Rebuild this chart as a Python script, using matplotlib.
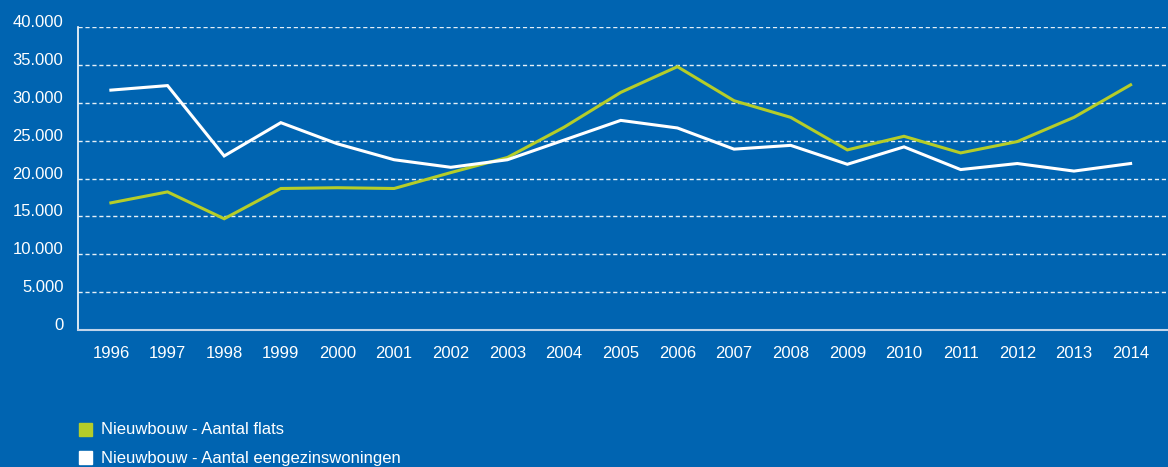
import matplotlib.pyplot as plt
from matplotlib.patches import Rectangle

years = [str(y) for y in range(1996, 2015)]
flats = [16800, 18250, 14700, 18700, 18800, 18700, 20800, 22800, 26800, 31400,
         34800, 30300, 28100, 23800, 25600, 23400, 24900, 28100, 32400]
eengezins = [31700, 32300, 23000, 27400, 24600, 22500, 21500, 22500, 25100, 27700,
             26700, 23900, 24400, 21900, 24200, 21200, 22000, 21000, 22000]
yticks = list(range(0, 40001, 5000))
ytick_labels = ["0" if v == 0 else f"{v // 1000}.000" for v in yticks]

blue = "#0064b1"
green = "#b5cd29"
plt.rcParams["font.family"] = ["Liberation Sans", "DejaVu Sans"]

fig = plt.figure(figsize=(11.68, 4.67), dpi=100, facecolor=blue)
ax = fig.add_axes([0.0668, 0.2934, 0.9332, 0.6481], facecolor=blue)

x = range(len(years))
ax.plot(x, flats, color=green, lw=2.2, solid_joinstyle="miter", zorder=3)
ax.plot(x, eengezins, color="white", lw=2.2, solid_joinstyle="miter", zorder=3)

ax.set_ylim(0, 40000)
ax.set_xlim(-0.58, 18.66)
ax.set_yticks(yticks)
ax.set_yticklabels(ytick_labels, va="baseline")
ax.set_xticks(list(x))
ax.set_xticklabels(years)
for v in yticks[1:]:
    ax.axhline(v, color="white", lw=1, ls=(0, (3, 2)), alpha=0.9, zorder=1)

ax.tick_params(length=0, colors="white", labelsize=12)
ax.tick_params(axis="y", pad=10.5)
ax.tick_params(axis="x", pad=11.5)
for s in ["top", "right"]:
    ax.spines[s].set_visible(False)
ax.spines["left"].set_color("white")
ax.spines["bottom"].set_color("#c0d4ea")
ax.spines["left"].set_linewidth(1.2)
ax.spines["bottom"].set_linewidth(1.5)

# legend drawn by hand below the plot
labels = ["Nieuwbouw - Aantal flats", "Nieuwbouw - Aantal eengezinswoningen"]
colors = [green, "white"]
for i, (lab, c) in enumerate(zip(labels, colors)):
    ypix = 430 + i * 28
    yf = 1 - ypix / 467
    fig.patches.append(Rectangle((79 / 1168, yf - 6 / 467), 13 / 1168, 13 / 467,
                                 transform=fig.transFigure, color=c))
    fig.text(101 / 1168, yf, lab, color="white", fontsize=12, va="center")

fig.savefig("out.png", dpi=100, facecolor=blue)
